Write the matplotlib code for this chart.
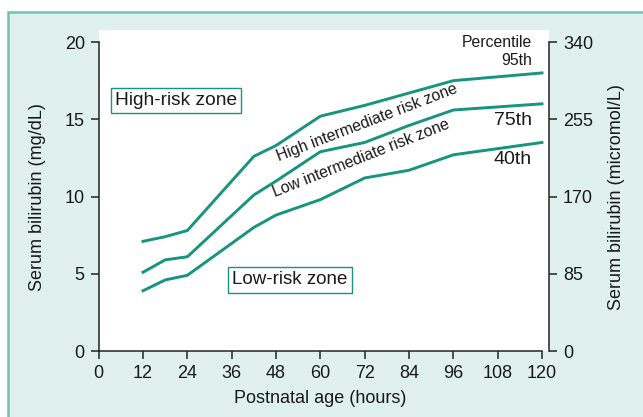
import matplotlib
matplotlib.use("Agg")
import matplotlib.pyplot as plt
from matplotlib.patches import Rectangle

# -------------------------------------------------
# Data
# -------------------------------------------------
hours = [12, 18, 24, 42, 48, 60, 72, 84, 96, 120]
p95 = [7.1, 7.4, 7.8, 12.6, 13.3, 15.2, 15.9, 16.7, 17.5, 18.0]
p75 = [5.1, 5.9, 6.1, 10.1, 11.0, 12.9, 13.5, 14.6, 15.6, 16.0]
p40 = [3.9, 4.6, 4.9, 8.0, 8.8, 9.8, 11.2, 11.7, 12.7, 13.5]

x_ticks = [0, 12, 24, 36, 48, 60, 72, 84, 96, 108, 120]
mg_ticks = [0, 5, 10, 15, 20]
umol_ticks = [0, 85, 170, 255, 340]

TEAL = "#16947f"
BG = "#dff0ed"
BORDER = "#6fc4b8"
TXT = "#1a1a1a"

plt.rcParams["font.family"] = ["Liberation Sans", "DejaVu Sans"]

W, H = 643, 417
fig = plt.figure(figsize=(W / 100, H / 100), dpi=100, facecolor="white")

# mint panel with teal border (left and top visible)
fig.patches.append(Rectangle((8 / W, -0.1), 1.2, 1.1 - 12 / H,
                             transform=fig.transFigure, facecolor=BG,
                             edgecolor=BORDER, linewidth=1.8, zorder=-10))

# -------------------------------------------------
# Axes
# -------------------------------------------------
left, right, bottom, top = 98.7, 549, 351, 30
ax = fig.add_axes([left / W, (H - bottom) / H, (right - left) / W, (bottom - top) / H])
ax.set_facecolor("white")
ax.set_xlim(0, 121.9)
ax.set_ylim(0, 20.78)

for name, ys in [("95th", p95), ("75th", p75), ("40th", p40)]:
    ax.plot(hours, ys, color=TEAL, linewidth=2.1, solid_joinstyle="miter")

ax.spines["top"].set_visible(False)
ax.spines["right"].set_visible(False)
ax.spines["left"].set_bounds(0, 20)
ax.spines["bottom"].set_bounds(0, 120)
for s in ("left", "bottom"):
    ax.spines[s].set_linewidth(1.1)
    ax.spines[s].set_color("#222222")

ax.set_xticks(x_ticks)
ax.set_yticks(mg_ticks)
ax.tick_params(direction="out", length=6, width=1.1, labelsize=13,
               colors="#222222", labelcolor=TXT, pad=4)

ax.set_xlabel("Postnatal age (hours)", fontsize=13, color=TXT)
ax.xaxis.set_label_coords(0.4915, -0.123)
ax.set_ylabel("Serum bilirubin (mg/dL)", fontsize=13, color=TXT)
ax.yaxis.set_label_coords(-0.118, 0.481)

# right axis in micromol/L
ax2 = ax.twinx()
ax2.set_ylim(0, 20.78 * 17)
ax2.set_yticks(umol_ticks)
for s in ("top", "left", "bottom"):
    ax2.spines[s].set_visible(False)
ax2.spines["right"].set_bounds(0, 340)
ax2.spines["right"].set_linewidth(1.1)
ax2.spines["right"].set_color("#222222")
ax2.tick_params(direction="out", length=6, width=1.1, labelsize=13,
                colors="#222222", labelcolor=TXT, pad=4)
ax2.set_ylabel("Serum bilirubin (micromol/L)", fontsize=13, color=TXT)
ax2.yaxis.set_label_coords(1.131, 0.481)

# -------------------------------------------------
# Zone labels
# -------------------------------------------------
box = dict(boxstyle="square,pad=0.22", facecolor="white", edgecolor=TEAL, linewidth=1.0)
ax.text(20.9, 16.2, "High-risk zone", fontsize=13.8, color=TXT,
        ha="center", va="center", bbox=box)
ax.text(51.8, 4.6, "Low-risk zone", fontsize=13.5, color=TXT,
        ha="center", va="center", bbox=box)

ax.text(72.6, 14.8, "High intermediate risk zone", fontsize=11.4, color=TXT,
        ha="center", va="center", rotation=21)
ax.text(71.0, 12.5, "Low intermediate risk zone", fontsize=11.4, color=TXT,
        ha="center", va="center", rotation=21.5)

ax.text(117.3, 20.0, "Percentile", fontsize=11.3, color=TXT, ha="right", va="center")
ax.text(117.3, 18.8, "95th", fontsize=11.3, color=TXT, ha="right", va="center")
ax.text(117.3, 14.9, "75th", fontsize=14, color=TXT, ha="right", va="center")
ax.text(117.3, 12.4, "40th", fontsize=14, color=TXT, ha="right", va="center")

fig.savefig("out.png", dpi=100, facecolor=fig.get_facecolor())
